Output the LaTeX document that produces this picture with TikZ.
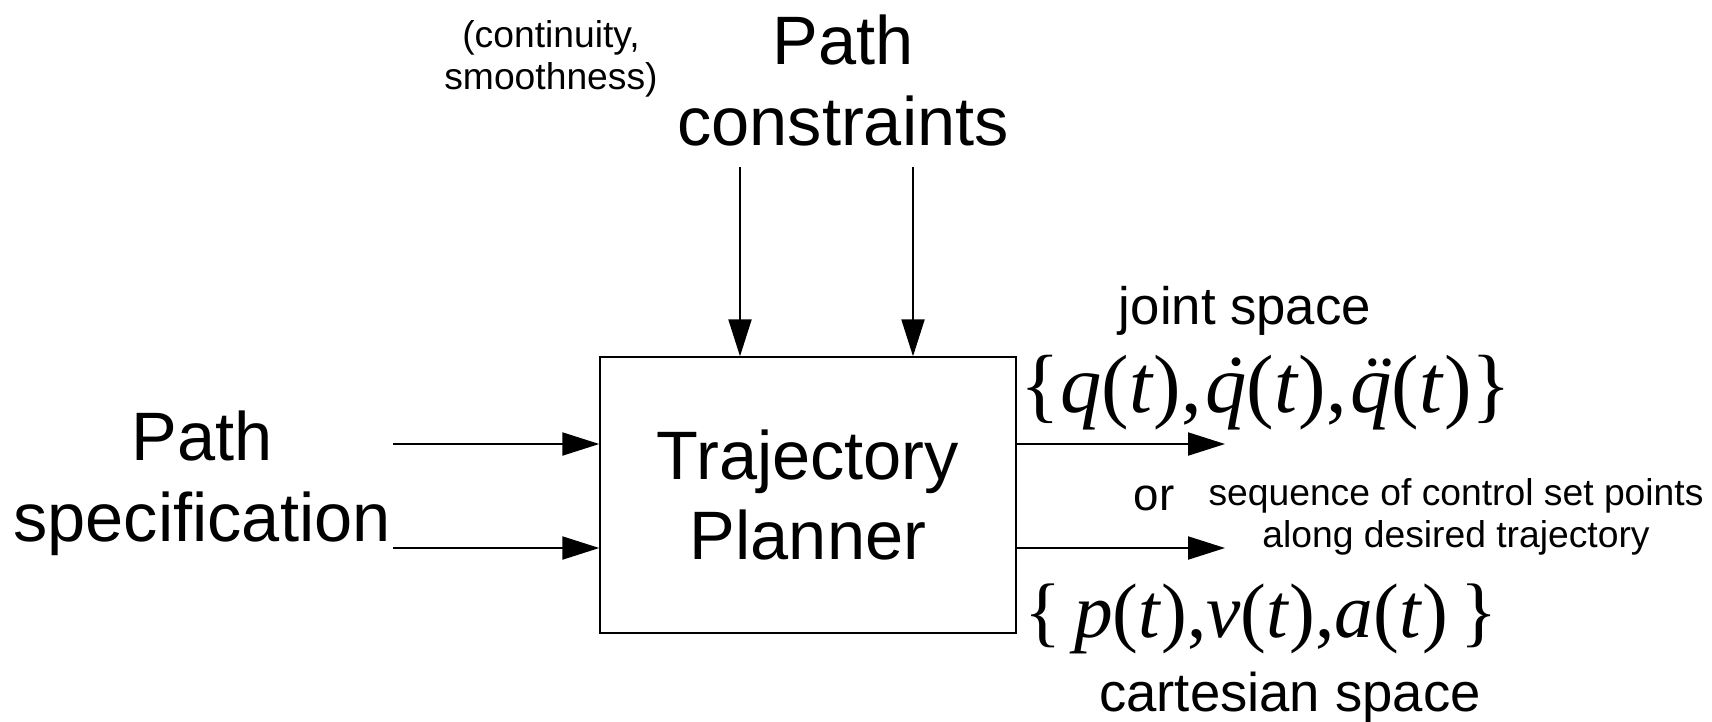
\documentclass[tikz,border=0pt]{standalone}
\usepackage{fontspec}
\setmainfont{Liberation Sans}
\newfontfamily\formulafont{Liberation Serif}
\usetikzlibrary{arrows.meta,positioning}
% dotted letters for the joint space formula
\newcommand{\withacc}[2]{\textit{#2}\llap{\makebox[.5em]{\textit{#1}}\kern-.06em}}

\begin{document}
\begin{tikzpicture}[
            big/.style={font=\fontsize{19.5}{23}\selectfont,align=center,inner sep=0},
            mid/.style={font=\fontsize{15}{18}\selectfont,inner sep=0},
            small/.style={font=\fontsize{10.6}{11.8}\selectfont,align=center,inner sep=0},
            formula/.style={font=\formulafont\fontsize{#1}{28}\selectfont,inner sep=0},
            formula/.default=22,
            block/.style={draw,line width=.4pt,minimum width=4.16cm,minimum height=2.76cm,inner sep=0},
            arr/.style={draw,line width=.6pt,-{Triangle[length=3.7mm,width=2.3mm]}}
          ]
          \useasboundingbox (0,0) rectangle (17.12,-7.21);

          \node[block,big] (planner) at (8.08,-4.95) {Trajectory\\Planner};

          %inputs
          \node[big,anchor=north] (constr) at (8.43,-0.14) {Path\\constraints};
          \node[small,anchor=north] (cont) at (5.51,-0.20) {(continuity,\\smoothness)};
          \node[big,anchor=north] (spec) at (2.02,-4.10) {Path\\specification};

          %outputs
          \node[mid,anchor=base] (joint) at (12.45,-3.24) {joint space};
          \node[formula=23.5,anchor=base] (qform) at (12.66,-4.12)
            {\{\textit{q}(\textit{t}),\kern1pt\withacc{˙}{q}(\textit{t}),\kern1pt\withacc{¨}{q}(\textit{t})\}};
          \node[font=\fontsize{13}{15}\selectfont,inner sep=0,anchor=base] (or) at (11.54,-5.10) {or};
          \node[small,anchor=north] (seq) at (14.56,-4.78) {sequence of control set points\\along desired trajectory};
          \node[formula,anchor=base] (pform) at (12.61,-6.37)
            {\{\,\textit{p}(\textit{t}),\textit{v}(\textit{t}),\textit{a}(\textit{t})\,\}};
          \node[mid,font=\fontsize{15.5}{18}\selectfont,anchor=base] (cart) at (12.90,-7.11) {cartesian space};

          %arrow ends
          \coordinate (c1) at (7.40,-1.67);
          \coordinate (c2) at (9.13,-1.67);
          \coordinate (s1) at (3.93,-4.44);
          \coordinate (s2) at (3.93,-5.48);
          \coordinate (o1) at (12.25,-4.44);
          \coordinate (o2) at (12.25,-5.48);

          \path[arr] (c1) -- (c1 |- planner.north);
          \path[arr] (c2) -- (c2 |- planner.north);
          \path[arr] (s1) -- (s1 -| planner.west);
          \path[arr] (s2) -- (s2 -| planner.west);
          \path[arr] (o1 -| planner.east) -- (o1);
          \path[arr] (o2 -| planner.east) -- (o2);
      \end{tikzpicture}
\end{document}
